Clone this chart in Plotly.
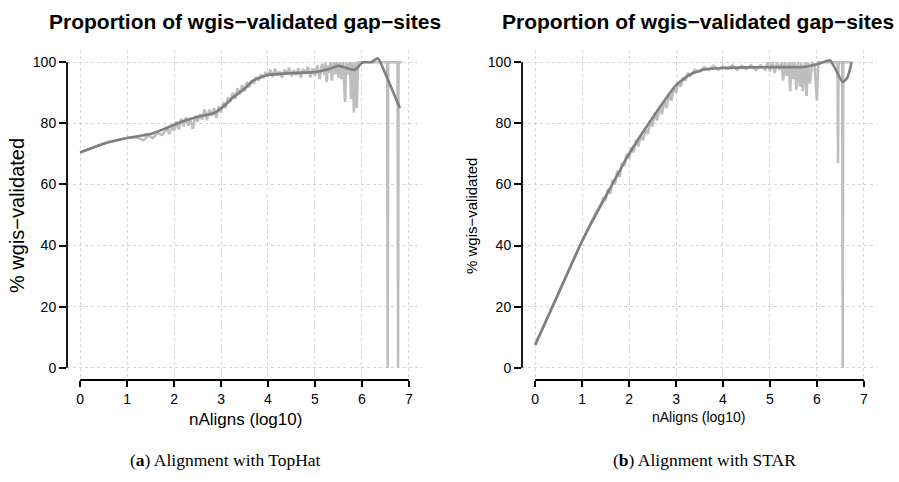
import plotly.graph_objects as go

# ---------------- data: TopHat (left) ----------------
tophat_raw_x = [0.0, 0.2, 0.4, 0.6, 0.8, 1.0, 1.2, 1.35, 1.45, 1.55, 1.65, 1.75, 1.85, 1.9, 1.95,
                2.0, 2.05, 2.1, 2.15, 2.2, 2.25, 2.3, 2.35, 2.4, 2.45, 2.5, 2.55, 2.6, 2.65, 2.7,
                2.75, 2.8, 2.85, 2.9, 2.95, 3.0, 3.05, 3.1, 3.15, 3.2, 3.25, 3.3, 3.35, 3.4, 3.45,
                3.5, 3.55, 3.6, 3.65, 3.7, 3.75, 3.8, 3.85, 3.9, 3.95, 4.0, 4.05, 4.1, 4.15, 4.2,
                4.25, 4.3, 4.35, 4.4, 4.45, 4.5, 4.55, 4.6, 4.65, 4.7, 4.75, 4.8, 4.85, 4.9, 4.95,
                5.0, 5.05, 5.1, 5.15, 5.2, 5.22, 5.25, 5.28, 5.3, 5.33, 5.36, 5.4, 5.43, 5.46, 5.5,
                5.53, 5.56, 5.6, 5.64, 5.67, 5.7, 5.74, 5.77, 5.8, 5.83, 5.86, 5.89, 5.92, 5.96,
                6.1, 6.3, 6.5, 6.54, 6.55, 6.56, 6.6, 6.7, 6.76, 6.77, 6.78, 6.82, 6.85]
tophat_raw_y = [70.4, 71.6, 72.9, 74.0, 74.6, 75.2, 75.4, 74.5, 76.0, 75.2, 76.8, 76.2, 78.5, 76.5, 79.5,
                77.5, 80.5, 78.0, 81.5, 79.0, 82.0, 79.2, 81.0, 78.2, 82.5, 80.5, 83.0, 81.2, 84.5, 81.0,
                84.5, 82.5, 85.0, 81.8, 85.5, 83.5, 87.0, 85.0, 88.5, 87.0, 90.0, 88.0, 91.5, 89.5, 92.5,
                90.5, 93.5, 91.8, 94.0, 93.0, 95.2, 94.0, 96.0, 94.8, 96.8, 95.5, 97.5, 95.2, 97.8, 95.6,
                97.0, 95.0, 97.6, 96.0, 98.2, 95.4, 97.4, 95.8, 98.0, 95.0, 97.8, 96.2, 98.5, 95.0, 98.0,
                95.5, 99.0, 94.5, 99.5, 96.0, 100.0, 93.5, 99.0, 96.5, 100.0, 94.0, 100.0, 96.0, 100.0, 95.0,
                100.0, 94.5, 100.0, 87.0, 100.0, 96.0, 100.0, 88.0, 100.0, 83.5, 100.0, 85.0, 100.0, 100.0,
                100.0, 100.0, 100.0, 100.0, 0.0, 100.0, 100.0, 100.0, 100.0, 0.0, 100.0, 100.0, 100.0]
tophat_fit_x = [0.0, 0.5, 1.0, 1.5, 1.84, 2.16, 2.55, 2.84, 3.05, 3.26, 3.5, 3.68, 4.0, 4.5, 5.0,
                5.3, 5.5, 5.85, 6.02, 6.2, 6.34, 6.45, 6.81]
tophat_fit_y = [70.5, 73.3, 75.2, 76.5, 78.5, 80.5, 82.3, 83.3, 85.5, 88.5, 91.3, 94.0, 95.8, 96.4, 96.8,
                97.8, 98.8, 97.5, 100.0, 100.0, 101.3, 98.0, 85.0]

# ---------------- data: STAR (right) ----------------
star_raw_x = [0.0, 0.5, 1.0, 1.3, 1.4, 1.45, 1.5, 1.55, 1.6, 1.65, 1.7, 1.75, 1.8, 1.85, 1.9, 1.95,
              2.0, 2.05, 2.1, 2.15, 2.2, 2.25, 2.3, 2.35, 2.4, 2.45, 2.5, 2.55, 2.6, 2.65, 2.7, 2.75,
              2.8, 2.85, 2.9, 2.95, 3.0, 3.05, 3.1, 3.15, 3.2, 3.25, 3.3, 3.4, 3.5, 3.6, 3.7, 3.8,
              3.9, 4.0, 4.1, 4.2, 4.3, 4.4, 4.5, 4.6, 4.7, 4.8, 4.9, 4.95, 5.0, 5.05, 5.1, 5.15,
              5.2, 5.25, 5.28, 5.32, 5.36, 5.4, 5.43, 5.46, 5.5, 5.53, 5.56, 5.6, 5.64, 5.67, 5.7,
              5.75, 5.78, 5.81, 5.85, 5.9, 5.95, 6.0, 6.03, 6.1, 6.2, 6.3, 6.44, 6.45, 6.46,
              6.5, 6.54, 6.55, 6.56, 6.6, 6.74]
star_raw_y = [7.5, 24.5, 41.5, 51.0, 53.5, 55.5, 55.0, 58.5, 57.0, 61.5, 60.0, 64.5, 62.5, 67.0, 66.0, 70.0,
              68.5, 72.0, 70.5, 74.5, 72.5, 76.0, 74.5, 78.0, 76.5, 80.5, 79.0, 83.5, 81.0, 85.5, 83.0, 87.5,
              85.0, 89.5, 87.5, 91.5, 90.0, 93.5, 92.0, 95.0, 94.0, 96.5, 95.5, 97.5, 96.8, 98.4, 97.5, 98.8,
              97.6, 98.6, 97.8, 99.0, 97.5, 98.8, 97.8, 99.0, 97.5, 99.0, 97.6, 100.0, 97.0, 100.0, 96.5, 100.0,
              97.5, 100.0, 94.0, 100.0, 95.5, 100.0, 90.5, 100.0, 94.5, 100.0, 91.0, 100.0, 92.0, 100.0, 90.5,
              100.0, 89.0, 100.0, 93.0, 100.0, 99.0, 87.5, 100.0, 100.0, 100.0, 100.0, 100.0, 67.0, 100.0,
              100.0, 100.0, 0.0, 100.0, 100.0, 100.0]
star_fit_x = [0.0, 0.5, 1.0, 1.5, 2.0, 2.5, 3.0, 3.3, 3.6, 4.0, 4.57, 5.2, 5.7, 6.06, 6.28, 6.42, 6.55, 6.65, 6.74]
star_fit_y = [7.5, 24.5, 41.5, 56.0, 70.0, 81.8, 92.5, 96.0, 97.6, 98.1, 98.3, 98.4, 98.4, 99.6, 100.6, 97.0, 93.5, 95.0, 100.0]

x_ticks = [0, 1, 2, 3, 4, 5, 6, 7]
y_ticks = [0, 20, 40, 60, 80, 100]

title_text = "Proportion of wgis\u2212validated gap\u2212sites"
xlab_text = "nAligns (log10)"
ylab_text = "% wgis\u2212validated"
captions = ["(<b>a</b>) Alignment with TopHat", "(<b>b</b>) Alignment with STAR"]

RAW = "#bebebe"
FIT = "#7f7f7f"
W, H = 899, 482
FONT = "Liberation Sans"

fig = go.Figure()
panels = [("x", "y", tophat_raw_x, tophat_raw_y, tophat_fit_x, tophat_fit_y),
          ("x2", "y2", star_raw_x, star_raw_y, star_fit_x, star_fit_y)]
for xa, ya, rx, ry, fx, fy in panels:
    fig.add_trace(go.Scatter(x=rx, y=ry, mode="lines", line=dict(color=RAW, width=2.6),
                             xaxis=xa, yaxis=ya, showlegend=False, hoverinfo="skip"))
    fig.add_trace(go.Scatter(x=fx, y=fy, mode="lines", line=dict(color=FIT, width=2.6, shape="spline", smoothing=0.5),
                             xaxis=xa, yaxis=ya, showlegend=False))

def px_x(p):
    return p / W
def px_y(p):
    return 1 - p / H

common_x = dict(range=[-0.28, 7.28], tickvals=x_ticks, ticks="outside", ticklen=6, tickwidth=1.5,
                tickcolor="black", showline=False, zeroline=False, showgrid=True, gridcolor="#d4d4d4",
                griddash="dot", gridwidth=1, tickfont=dict(family=FONT, size=14, color="black"))
common_y = dict(range=[-4, 104], tickvals=y_ticks, ticks="outside", ticklen=7, tickwidth=1.5,
                tickcolor="black", showline=False, zeroline=False, showgrid=True, gridcolor="#d4d4d4",
                griddash="dot", gridwidth=1, tickfont=dict(family=FONT, size=14, color="black"))

fig.update_layout(
    width=W, height=H, margin=dict(l=0, r=0, t=0, b=0),
    paper_bgcolor="white", plot_bgcolor="white",
    xaxis=dict(domain=[px_x(67), px_x(422)], anchor="y", **common_x),
    yaxis=dict(domain=[px_y(380), px_y(50)], anchor="x", **common_y),
    xaxis2=dict(domain=[px_x(522), px_x(877)], anchor="y2", **common_x),
    yaxis2=dict(domain=[px_y(380), px_y(50)], anchor="x2", **common_y),
)

shapes = []
for xa, ya in [("x", "y"), ("x2", "y2")]:
    shapes.append(dict(type="line", xref=xa, yref=ya + " domain", x0=x_ticks[0], x1=x_ticks[-1], y0=0, y1=0,
                       line=dict(color="black", width=1.8)))
    shapes.append(dict(type="line", xref=xa + " domain", yref=ya, x0=0, x1=0, y0=y_ticks[0], y1=y_ticks[-1],
                       line=dict(color="black", width=1.8)))
fig.update_layout(shapes=shapes)

ann = []
for cx, ylx, xly, xls, yls in [(245, 17, 419, 17, 20, ), (698, 472, 417, 14, 15)]:
    ann.append(dict(text="<b>" + title_text + "</b>", x=px_x(cx), y=px_y(22), xref="paper", yref="paper",
                    showarrow=False, xanchor="center", yanchor="middle",
                    font=dict(family=FONT, size=21, color="black")))
    ann.append(dict(text=xlab_text, x=px_x(cx), y=px_y(xly), xref="paper", yref="paper",
                    showarrow=False, xanchor="center", yanchor="middle",
                    font=dict(family=FONT, size=xls, color="black")))
    ann.append(dict(text=ylab_text, x=px_x(ylx), y=px_y(216), xref="paper", yref="paper", textangle=-90,
                    showarrow=False, xanchor="center", yanchor="middle",
                    font=dict(family=FONT, size=yls, color="black")))
ann.append(dict(text=captions[0], x=px_x(226), y=px_y(460), xref="paper", yref="paper", showarrow=False,
                xanchor="center", yanchor="middle", font=dict(family="Liberation Serif", size=17.5, color="black")))
ann.append(dict(text=captions[1], x=px_x(704), y=px_y(460), xref="paper", yref="paper", showarrow=False,
                xanchor="center", yanchor="middle", font=dict(family="Liberation Serif", size=17.5, color="black")))
fig.update_layout(annotations=ann)

fig.write_html("out.html")
